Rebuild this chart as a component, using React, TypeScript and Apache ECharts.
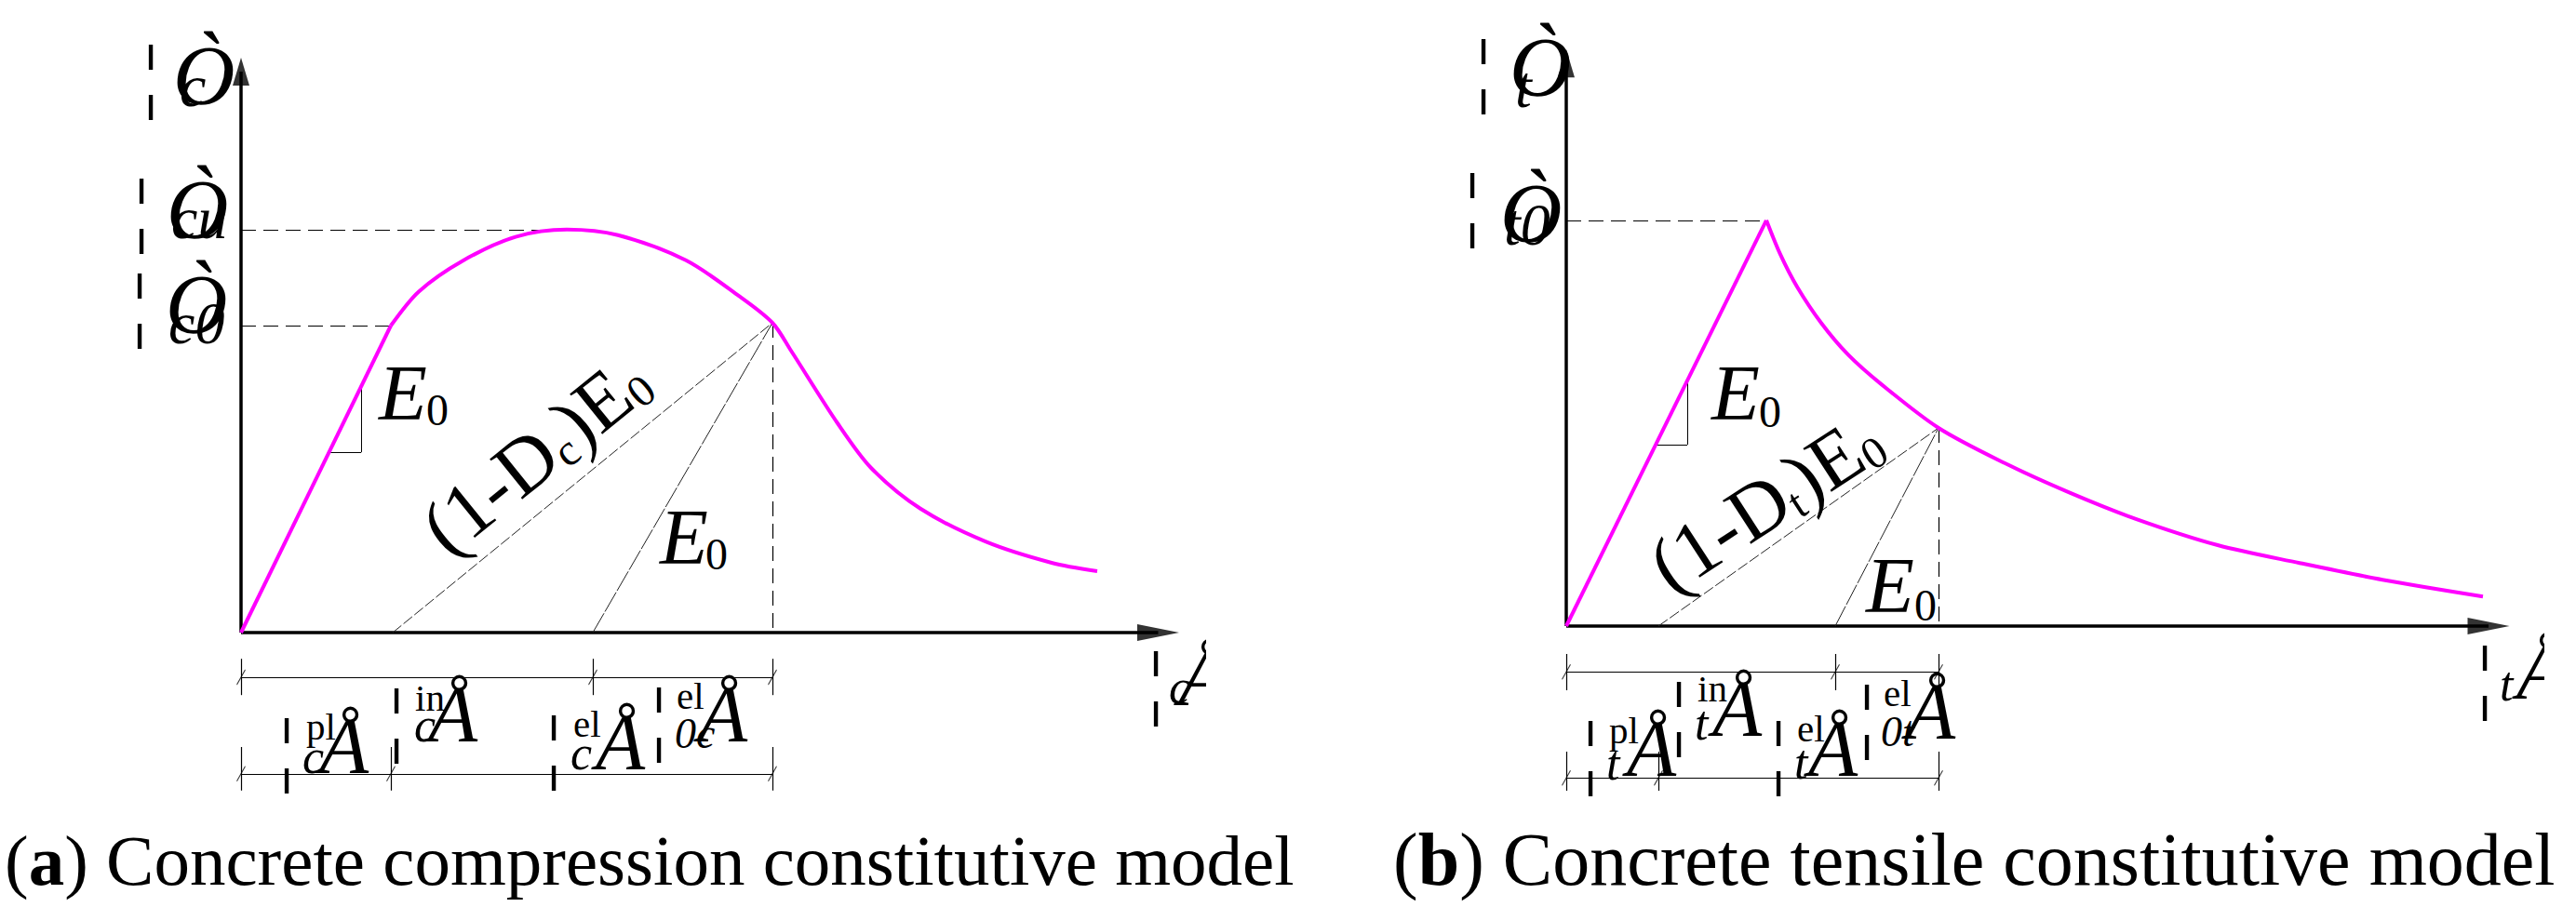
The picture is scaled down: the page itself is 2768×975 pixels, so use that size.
import React, { useEffect, useRef } from 'react';
import * as echarts from 'echarts';

// ---------------- DATA (schematic units: strain on x, stress on y) ----------------
// (a) compression
const compLinear: number[][] = [[0, 0], [16.1, 55.0]];
const compCurve: number[][] = [
  [16.1, 55.0], [19.1, 61.1], [23.8, 66.6], [29.5, 70.9], [35.0, 72.2], [40.5, 71.2],
  [47.8, 66.7], [53.5, 60.3], [57.1, 55.5], [59.1, 50.5], [64.1, 37.5], [67.7, 29.5],
  [73.0, 22.2], [80.0, 16.3], [87.1, 12.5], [92.0, 11.0],
];
const compPeak: number[] = [35.0, 72.2];
const compC0: number[] = [16.1, 55.0];
const compUnload: number[] = [57.1, 55.5];
const compSecantFoot = 16.3;
const compE0Foot = 37.8;
const compUpperTicks: number[] = [0, 37.8, 57.1];
const compLowerTicks: number[] = [0, 16.1, 57.1];
const compTriangle: number[][] = [[9.5, 32.3], [12.9, 32.3], [12.9, 43.8]];

// (b) tension
const tensLinear: number[][] = [[0, 0], [21.5, 72.7]];
const tensCurve: number[][] = [
  [21.5, 72.7], [23.0, 66.6], [24.8, 60.8], [27.4, 54.3], [30.3, 48.6], [33.8, 43.4], [40.0, 35.5],
  [47.1, 29.2], [54.1, 23.9], [61.2, 19.2], [70.0, 14.5], [78.8, 11.3], [87.7, 8.3], [98.5, 5.3],
];
const tensPeak: number[] = [21.5, 72.7];
const tensUnload: number[] = [40.0, 35.5];
const tensSecantFoot = 9.9;
const tensE0Foot = 28.9;
const tensUpperTicks: number[] = [0, 28.9, 40.0];
const tensLowerTicks: number[] = [0, 9.9, 40.0];
const tensTriangle: number[][] = [[9.6, 32.5], [13.0, 32.5], [13.0, 44.2]];

// ---------------- LAYOUT / STYLE ----------------
const MAG = '#FF00FF';
const FONT = "'Liberation Serif', 'Times New Roman', serif";
const SUP = 41;
const SUB = 52;
const SIGSUB = 64;

const panels = [
  {
    linear: compLinear, curve: compCurve, peak: compPeak, guide2: compC0, unload: compUnload,
    secantFoot: compSecantFoot, e0Foot: compE0Foot, upperTicks: compUpperTicks, lowerTicks: compLowerTicks,
    tri: compTriangle, xEnd: 98.55, yEnd: 100.5,
    upperY: -8.0, lowerY: -25.3, upExt: [-4.7, -11.2], lowExt: [-20.5, -28.3],
  },
  {
    linear: tensLinear, curve: tensCurve, peak: tensPeak, guide2: null as any, unload: tensUnload,
    secantFoot: tensSecantFoot, e0Foot: tensE0Foot, upperTicks: tensUpperTicks, lowerTicks: tensLowerTicks,
    tri: tensTriangle, xEnd: 99.1, yEnd: 100.8,
    upperY: -8.2, lowerY: -27.2, upExt: [-5, -11.5], lowExt: [-22.5, -29.5],
  },
];

function seg(a: number[], b: number[]) {
  return [{ coord: a }, { coord: b }];
}

function mlSeries(i: number, style: any, data: any[], z = 3) {
  return {
    type: 'line', xAxisIndex: i, yAxisIndex: i, data: [], z, silent: true,
    markLine: {
      silent: true, symbol: 'none', label: { show: false }, animation: false,
      lineStyle: style, emphasis: { disabled: true }, data,
    },
  };
}

function buildSeries(i: number) {
  const p = panels[i];
  const s: any[] = [];
  // axes
  s.push(mlSeries(i, { color: '#000', width: 3.5, type: 'solid' }, [
    seg([0, 0], [p.xEnd, 0]), seg([0, 0], [0, p.yEnd]),
  ], 4));
  s.push({
    type: 'scatter', xAxisIndex: i, yAxisIndex: i, data: [[p.xEnd, 0]], symbol: 'triangle',
    symbolSize: [18, 45], symbolRotate: -90, itemStyle: { color: '#000' }, silent: true, z: 4,
  });
  s.push({
    type: 'scatter', xAxisIndex: i, yAxisIndex: i, data: [[0, p.yEnd]], symbol: 'triangle',
    symbolSize: [18, 30], itemStyle: { color: '#000' }, silent: true, z: 4,
  });
  // dashed guides
  const dashed: any[] = [seg([0, p.peak[1]], p.peak), seg(p.unload, [p.unload[0], 0])];
  if (p.guide2) dashed.push(seg([0, p.guide2[1]], p.guide2));
  s.push(mlSeries(i, { color: '#000', width: 1.2, type: [16, 8] }, dashed));
  // secants
  s.push(mlSeries(i, { color: '#222', width: 1, type: [12, 3] }, [seg([p.secantFoot, 0], p.unload)]));
  s.push(mlSeries(i, { color: '#222', width: 1, type: [24, 2] }, [seg([p.e0Foot, 0], p.unload)]));
  // slope triangle
  s.push(mlSeries(i, { color: '#000', width: 1, type: 'solid' }, [
    seg(p.tri[0], p.tri[1]), seg(p.tri[1], p.tri[2]),
  ]));
  // dimension lines
  const upperEnd = p.upperTicks[p.upperTicks.length - 1];
  const lowerEnd = p.lowerTicks[p.lowerTicks.length - 1];
  const dims: any[] = [seg([0, p.upperY], [upperEnd, p.upperY]), seg([0, p.lowerY], [lowerEnd, p.lowerY])];
  p.upperTicks.forEach((x) => dims.push(seg([x, p.upExt[0]], [x, p.upExt[1]])));
  p.lowerTicks.forEach((x) => dims.push(seg([x, p.lowExt[0]], [x, p.lowExt[1]])));
  s.push(mlSeries(i, { color: '#000', width: 1.2, type: 'solid' }, dims));
  // slashes
  const slashData = [
    ...p.upperTicks.map((x) => [x, p.upperY]),
    ...p.lowerTicks.map((x) => [x, p.lowerY]),
  ];
  s.push({
    type: 'scatter', xAxisIndex: i, yAxisIndex: i, data: slashData, symbol: 'path://M0,16L9,0',
    symbolSize: [9, 16], itemStyle: { color: 'rgba(0,0,0,0)', borderColor: '#000', borderWidth: 1.2 },
    silent: true, z: 4,
  });
  // curves
  s.push({
    type: 'line', xAxisIndex: i, yAxisIndex: i, data: p.linear, symbol: 'none', z: 5,
    lineStyle: { color: MAG, width: 4 }, silent: true,
  });
  s.push({
    type: 'line', xAxisIndex: i, yAxisIndex: i, data: p.curve, symbol: 'none', z: 5,
    smooth: 0.3, lineStyle: { color: MAG, width: 4 }, silent: true,
  });
  return s;
}

// ---------------- TEXT HELPERS ----------------
function txt(text: string, x: number, base: number, size: number, italic = false, extra: any = {}) {
  return {
    type: 'text', x, y: base - 0.305 * size, silent: true, z: 10,
    style: {
      text, fontFamily: FONT, fontSize: size, fontStyle: italic ? 'italic' : 'normal',
      fill: '#000', textAlign: 'left', textVerticalAlign: 'middle', ...extra,
    },
  };
}
function bar(cx: number, cy: number, size = 88) {
  return {
    type: 'text', x: cx, y: cy - 3, silent: true, z: 10,
    style: { text: '¦', fontFamily: FONT, fontSize: size, fill: '#000', textAlign: 'center', textVerticalAlign: 'middle' },
  };
}
function eps(barX: number, barY: number, ax: number, aBase: number, sup: string, supX: number, supBase: number, sub: string, subX: number, subBase: number, subSize = SUB) {
  const out: any[] = [bar(barX, barY), txt('Å', ax, aBase, 87, true)];
  if (sup) out.push(txt(sup, supX, supBase, SUP, false));
  if (sub) out.push(txt(sub, subX, subBase, subSize, true));
  return out;
}
function sig(barX: number, barY: number, ox: number, oBase: number, sub: string, subX: number, subBase: number) {
  return [bar(barX, barY), txt('Ò', ox, oBase, 92, true), txt(sub, subX, subBase, SIGSUB, true)];
}
function e0(x: number, base: number, zx: number, zBase: number) {
  return [txt('E', x, base, 85, true), txt('0', zx, zBase, 48, false)];
}
function rotated(sub: string, cx: number, cy: number, deg: number) {
  return {
    type: 'text', x: cx, y: cy, rotation: (deg * Math.PI) / 180, silent: true, z: 10,
    style: {
      text: `(1-D{s|${sub}})E{s|0}`, fontFamily: FONT, fontSize: 85, fill: '#000',
      textAlign: 'center', textVerticalAlign: 'middle',
      rich: { s: { fontSize: 48, fontFamily: FONT, fill: '#000', verticalAlign: 'bottom' } },
    },
  };
}
function caption(letter: string, rest: string, x: number, base: number, size: number) {
  return {
    type: 'text', x, y: base - 0.305 * size, silent: true, z: 10,
    style: {
      text: `({b|${letter}}) ${rest}`, fontFamily: FONT, fontSize: size, fill: '#000',
      textAlign: 'left', textVerticalAlign: 'middle',
      rich: { b: { fontFamily: FONT, fontSize: size, fontWeight: 'bold', fill: '#000' } },
    },
  };
}

function buildGraphics() {
  const g: any[] = [];
  // (a) stress labels
  g.push(...sig(162, 83, 186, 109, 'c', 193, 112));
  g.push(...sig(152, 227, 179, 253, 'cu', 184, 254));
  g.push(...sig(150, 329, 178, 355, 'c0', 181, 367));
  // (a) strain axis label (clipped)
  g.push(...eps(1242, 735, 1266, 755, '', 0, 0, 'c', 1256, 754));
  // (a) dimension labels
  g.push(...eps(308, 807, 343, 828, 'pl', 329, 794, 'c', 325, 829));
  g.push(...eps(426, 775, 460, 794, 'in', 446, 763, 'c', 445, 795));
  g.push(...eps(595, 804, 640, 824, 'el', 616, 791, 'c', 613, 825));
  g.push(...eps(708, 774, 750, 794, 'el', 727, 761, '0c', 725, 803, 46));
  // (a) moduli
  g.push(...e0(407, 448, 458, 455));
  g.push(...e0(709, 603, 758, 610));
  g.push(rotated('c', 575, 488, 39));

  // (b) stress labels
  g.push(...sig(1594, 77, 1622, 100, 't', 1628, 113));
  g.push(...sig(1582, 221, 1612, 257, 't0', 1616, 261));
  // (b) strain axis label (clipped)
  g.push(...eps(2670, 729, 2704, 748, '', 0, 0, 't', 2686, 751));
  // (b) dimension labels
  g.push(...eps(1709, 810, 1748, 831, 'pl', 1729, 798, 't', 1726, 836));
  g.push(...eps(1804, 768, 1840, 788, 'in', 1824, 753, 't', 1821, 793));
  g.push(...eps(1911, 810, 1943, 831, 'el', 1931, 796, 't', 1928, 835));
  g.push(...eps(2006, 771, 2048, 791, 'el', 2024, 758, '0t', 2021, 801, 46));
  // (b) moduli
  g.push(...e0(1839, 448, 1890, 457));
  g.push(...e0(2005, 655, 2057, 665));
  g.push(rotated('t', 1897, 540, 33));

  // white masks where the original sub-figures were cropped
  g.push({ type: 'rect', shape: { x: 1296, y: 670, width: 150, height: 120 }, style: { fill: '#fff' }, z: 20, silent: true });
  g.push({ type: 'rect', shape: { x: 2734, y: 660, width: 40, height: 130 }, style: { fill: '#fff' }, z: 20, silent: true });

  // captions
  g.push(caption('a', 'Concrete compression constitutive model', 5, 948, 77));
  g.push(caption('b', 'Concrete tensile constitutive model', 1497, 948, 80));
  return g;
}

export default function App() {
  const ref = useRef<HTMLDivElement>(null);
  useEffect(() => {
    document.body.style.margin = '0';
    if (!ref.current) return;
    const chart = echarts.init(ref.current, undefined, { renderer: 'svg' });
    const axisX = (i: number) => ({ gridIndex: i, type: 'value', min: 0, max: 100, show: false });
    const axisY = (i: number) => ({ gridIndex: i, type: 'value', min: -40, max: 105, show: false });
    chart.setOption({
      animation: false,
      backgroundColor: '#fff',
      grid: [
        { left: 259, top: 50, width: 1000, height: 870 },
        { left: 1683, top: 43, width: 1000, height: 870 },
      ],
      xAxis: [axisX(0), axisX(1)],
      yAxis: [axisY(0), axisY(1)],
      series: [...buildSeries(0), ...buildSeries(1)],
      graphic: { elements: buildGraphics() },
    });
    return () => chart.dispose();
  }, []);
  return <div ref={ref} style={{ width: 2768, height: 975 }} />;
}
